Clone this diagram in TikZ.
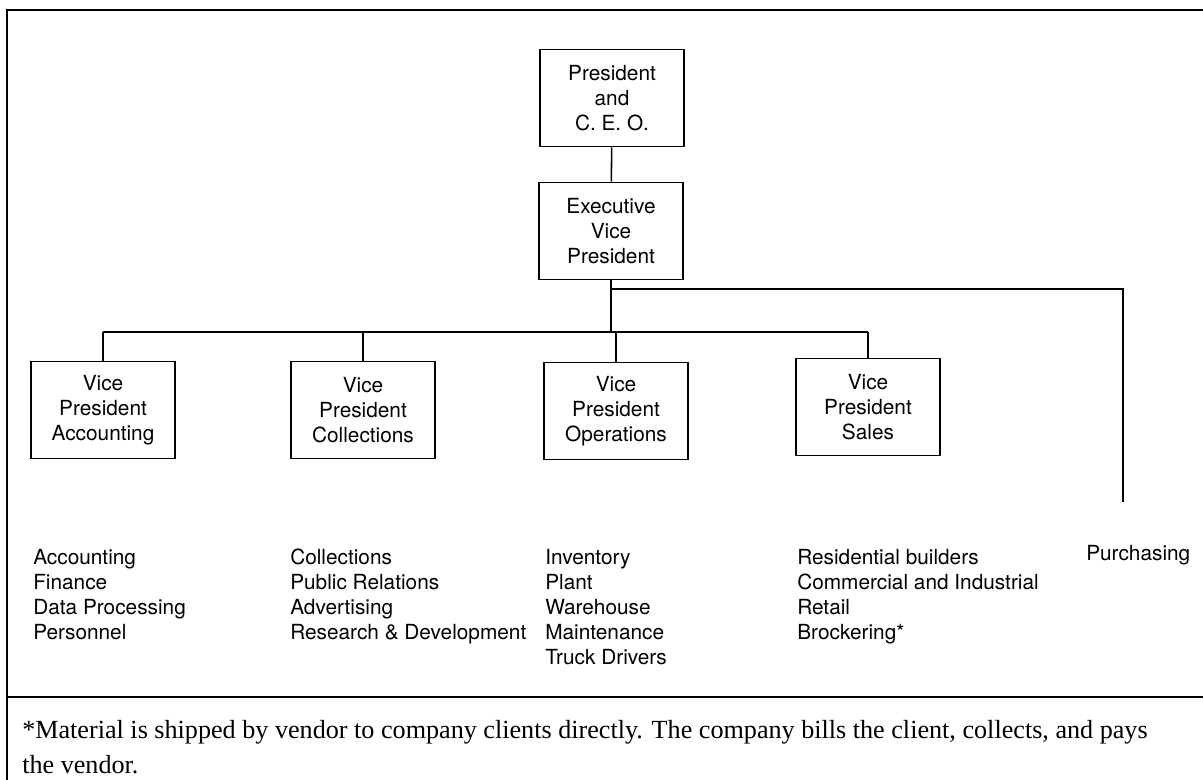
\documentclass[tikz,border=0pt]{standalone}
\usepackage{fontspec}
\setmainfont{Liberation Serif}
\setsansfont{TeX Gyre Heros}
\tikzset{
 orgbox/.style={draw,line width=1.1pt,minimum width=3.6cm,minimum height=2.425cm,align=center,inner sep=2pt},
 deptlist/.style={anchor=north west,align=left,inner sep=0pt},
 tie/.style={line width=1.1pt},
 frame/.style={line width=1.6pt}
}

\begin{document}
\begin{tikzpicture}[font=\sffamily\fontsize{14.8}{17.8}\selectfont]
\useasboundingbox (0,0) rectangle (30.075,-19.475);
\clip (0,0) rectangle (30.075,-19.475);
% outer frame, cut off on the right and at the bottom
\draw[frame] (30.4,-0.25)--(0.175,-0.25)--(0.175,-19.8);
\draw[frame] (0.175,-17.425)--(30.4,-17.425);

\node[orgbox] (ceo) at (15.3,-2.45) {President\\and\\C. E. O.};
\node[orgbox] (evp) at (15.275,-5.775) {Executive\\Vice\\President};
\draw[tie] (ceo)--(evp);

\coordinate (bar) at (15.275,-8.3);
\coordinate (branch) at (28.075,-7.225);
\coordinate (purchend) at (28.075,-12.55);
\draw[tie] (evp.south)--(bar);
\draw[tie] (evp.south |- branch)--(branch)--(purchend);

\foreach \nm/\x/\y/\area in {vpacc/2.575/-10.25/Accounting,vpcol/9.075/-10.25/Collections,vpops/15.4/-10.275/Operations,vpsal/21.7/-10.175/Sales}{
 \node[orgbox] (\nm) at (\x,\y) {Vice\\President\\\area};
 \draw[tie] (\nm.north)--(\nm.north |- bar);
}
\draw[tie] (vpacc.north |- bar)--(vpsal.north |- bar);

% what each office looks after
\node[deptlist] (acclist) at (0.825,-13.725) {Accounting\\Finance\\Data Processing\\Personnel};
\node[deptlist] (collist) at (7.25,-13.725) {Collections\\Public Relations\\Advertising\\Research \& Development};
\node[deptlist] (opslist) at (13.625,-13.725) {Inventory\\Plant\\Warehouse\\Maintenance\\Truck Drivers};
\node[deptlist] (sallist) at (19.925,-13.725) {Residential builders\\Commercial and Industrial\\Retail\\Brockering*};
\node[deptlist] (purch) at (27.15,-13.625) {Purchasing};

\node[deptlist,font=\rmfamily\fontsize{18.6}{24.8}\selectfont] (note) at (0.55,-18.0)
 {*Material is shipped by vendor to company clients directly. The company bills the client, collects, and pays\\the vendor.};
\end{tikzpicture}
\end{document}
